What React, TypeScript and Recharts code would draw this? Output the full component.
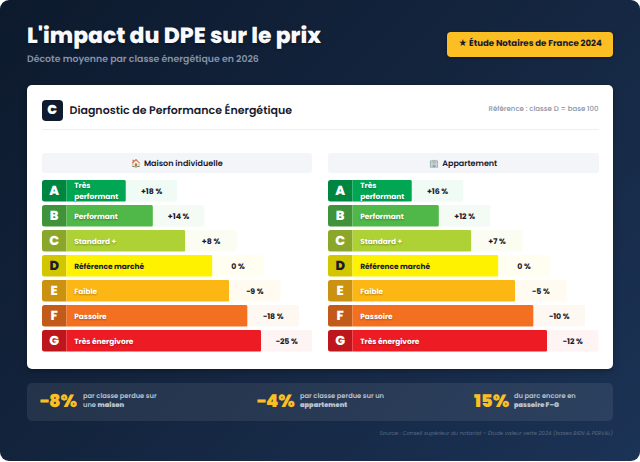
import React from "react";
import { BarChart, Bar, XAxis, YAxis, Cell, LabelList } from "recharts";

const classes = ["A", "B", "C", "D", "E", "F", "G"];
const names = ["Très performant", "Performant", "Standard +", "Référence marché", "Faible", "Passoire", "Très énergivore"];
const barShare = [31, 41, 53, 63, 69.2, 76, 81];
const houseDelta = ["+18 %", "+14 %", "+8 %", "0 %", "−9 %", "−18 %", "−25 %"];
const flatDelta = ["+16 %", "+12 %", "+7 %", "0 %", "−5 %", "−10 %", "−12 %"];
const barColors = ["#00a651", "#50b848", "#aed136", "#fff200", "#fdb714", "#f37021", "#ed1c24"];
const tabColors = ["#008541", "#40933a", "#8ba72b", "#d1c600", "#ca9210", "#c25a1a", "#be161d"];
const paleColors = ["#f0fbf5", "#f4fbf4", "#fbfdf3", "#fffef0", "#fffbf1", "#fef8f3", "#fef4f4"];
const darkText = ["#fff", "#fff", "#fff", "#1a1a2e", "#fff", "#fff", "#fff"];

const TAB = 9;
const PALE = 19;
const FONT = "Poppins, Inter, 'Noto Sans', sans-serif";

function rowsFor(delta: string[]) {
  return classes.map((c, i) => ({
    c,
    name: names[i],
    tab: TAB,
    body: barShare[i] - TAB,
    pale: PALE,
    delta: delta[i],
  }));
}

function TabShape(p: any) {
  const { x, y, width, height, fill } = p;
  const r = 2.5;
  return (
    <path
      d={`M${x + r},${y}H${x + width}V${y + height}H${x + r}Q${x},${y + height} ${x},${y + height - r}V${y + r}Q${x},${y} ${x + r},${y}Z`}
      fill={fill}
    />
  );
}

function BodyShape(p: any) {
  const { x, y, width, height, fill } = p;
  const r = 1.5;
  return (
    <path
      d={`M${x},${y}H${x + width - r}Q${x + width},${y} ${x + width},${y + r}V${y + height - r}Q${x + width},${y + height} ${x + width - r},${y + height}H${x}Z`}
      fill={fill}
    />
  );
}

function PaleShape(p: any) {
  const { x, y, width, height, fill } = p;
  return <rect x={x} y={y} width={width} height={height} rx={1.5} fill={fill} />;
}

function TabLabel(p: any) {
  const { x, y, width, height, value, index } = p;
  return (
    <text
      x={x + width / 2}
      y={y + height / 2 + 4.6}
      textAnchor="middle"
      fontSize={13}
      fontWeight={800}
      fontFamily={FONT}
      fill={darkText[index]}
    >
      {value}
    </text>
  );
}

function BodyLabel(p: any) {
  const { x, y, height, value, index } = p;
  const fill = darkText[index];
  const isDark = index === 3;
  const common = {
    fontSize: 7.4,
    fontWeight: 700,
    fontFamily: FONT,
    fill,
    style: { textShadow: isDark ? undefined : "0 1px 2px rgba(0,0,0,.3)" },
  };
  const tx = x + 7.8;
  const cy = y + height / 2;
  if (value === "Très performant") {
    return (
      <text {...common}>
        <tspan x={tx} y={cy - 3}>Très</tspan>
        <tspan x={tx} y={cy + 8.5}>performant</tspan>
      </text>
    );
  }
  return (
    <text {...common} x={tx} y={cy + 2.8}>
      {value}
    </text>
  );
}

function PaleLabel(p: any) {
  const { x, y, width, height, value } = p;
  return (
    <text
      x={x + width / 2}
      y={y + height / 2 + 3.2}
      textAnchor="middle"
      fontSize={7.8}
      fontWeight={700}
      fontFamily={FONT}
      fill="#1a1a2e"
    >
      {value}
    </text>
  );
}

function Ladder({ delta, left }: { delta: string[]; left: number }) {
  const rows = rowsFor(delta);
  return (
    <div style={{ position: "absolute", left, top: 177.75 }}>
      <BarChart
        width={270.5}
        height={175}
        layout="vertical"
        data={rows}
        margin={{ top: 0, right: 0, bottom: 0, left: 0 }}
        barCategoryGap={0}
        barSize={21.5}
      >
        <XAxis type="number" domain={[0, 100]} hide />
        <YAxis type="category" dataKey="c" hide width={0} />
        <Bar dataKey="tab" stackId="s" shape={TabShape} isAnimationActive={false}>
          {rows.map((r, i) => (
            <Cell key={r.c} fill={tabColors[i]} />
          ))}
          <LabelList dataKey="c" content={TabLabel} />
        </Bar>
        <Bar dataKey="body" stackId="s" shape={BodyShape} isAnimationActive={false}>
          {rows.map((r, i) => (
            <Cell key={r.c} fill={barColors[i]} />
          ))}
          <LabelList dataKey="name" content={BodyLabel} />
        </Bar>
        <Bar dataKey="pale" stackId="s" shape={PaleShape} isAnimationActive={false}>
          {rows.map((r, i) => (
            <Cell key={r.c} fill={paleColors[i]} />
          ))}
          <LabelList dataKey="delta" content={PaleLabel} />
        </Bar>
      </BarChart>
    </div>
  );
}

const abs = (s: React.CSSProperties): React.CSSProperties => ({ position: "absolute", whiteSpace: "nowrap", ...s });

function PanelHead({ left, icon, text, iconGap }: { left: number; icon: string; text: string; iconGap: number }) {
  return (
    <div
      style={abs({
        left,
        top: 153,
        width: 270.5,
        height: 19.5,
        paddingTop: 2.5,
        boxSizing: "border-box",
        background: "#f3f5f9",
        borderRadius: 3,
        display: "flex",
        alignItems: "center",
        justifyContent: "center",
        fontSize: 8,
        fontWeight: 600,
        color: "#1a1a2e",
        gap: iconGap,
      })}
    >
      <span>{icon}</span>
      <span>{text}</span>
    </div>
  );
}

function Stat({ left, big, bigW, lines }: { left: number; big: string; bigW: number; lines: React.ReactNode[] }) {
  return (
    <>
      <div style={abs({ left, top: 388.5, fontSize: 17.6, fontWeight: 900, color: "#fbbf24", lineHeight: "26px" })}>{big}</div>
      <div style={abs({ left: left + bigW, top: 391.5, fontSize: 6.7, fontWeight: 600, color: "#b8c2d0", lineHeight: "9px" })}>
        {lines.map((l, i) => (
          <div key={i}>{l}</div>
        ))}
      </div>
    </>
  );
}

export default function App() {
  return (
    <div
      style={{
        position: "absolute",
        left: 0,
        top: 0,
        width: 640,
        height: 462,
        overflow: "hidden",
        background: "#fff",
        fontFamily: FONT,
        textRendering: "geometricPrecision",
      }}
    >
      <div
        style={{
          position: "absolute",
          inset: "0 0 1.5px 0",
          borderRadius: 9,
          background: "linear-gradient(135deg,#0d1a2d 0%,#14253f 50%,#1b3356 100%)",
        }}
      />
      <div style={abs({ left: 27, top: 20.5, fontSize: 21.9, fontWeight: 800, color: "#f7f9fc", lineHeight: "30px", textShadow: "0 1px 3px rgba(0,0,0,.35)" })}>
        L'impact du DPE sur le prix
      </div>
      <div style={abs({ left: 27, top: 52.5, fontSize: 9.35, fontWeight: 600, color: "#8592a6", lineHeight: "14px" })}>
        Décote moyenne par classe énergétique en 2026
      </div>
      <div
        style={abs({
          left: 447,
          top: 32,
          width: 166,
          height: 25,
          background: "#fbbf24",
          borderRadius: 4,
          boxShadow: "0 1px 3px rgba(0,0,0,.4)",
          display: "flex",
          alignItems: "center",
          justifyContent: "center",
          fontSize: 8.6,
          fontWeight: 700,
          color: "#1a1a2e",
        })}
      >
        ★ Étude Notaires de France 2024
      </div>

      <div style={abs({ left: 27, top: 85, width: 586, height: 284, background: "#fff", borderRadius: 5, boxShadow: "0 2px 6px rgba(0,0,0,.3)" })} />
      <div
        style={abs({
          left: 41.5,
          top: 99.5,
          width: 21.5,
          height: 21.5,
          background: "#0f1a2e",
          borderRadius: 4,
          display: "flex",
          alignItems: "center",
          justifyContent: "center",
          color: "#fff",
          fontSize: 13,
          fontWeight: 900,
        })}
      >
        C
      </div>
      <div style={abs({ left: 69.5, top: 102, fontSize: 11, fontWeight: 600, color: "#1a1a2e", lineHeight: "16px" })}>
        Diagnostic de Performance Énergétique
      </div>
      <div style={abs({ right: 41.5, top: 104, fontSize: 7, fontWeight: 500, color: "#8a93a3", lineHeight: "12px" })}>
        Référence : classe D = base 100
      </div>
      <div style={abs({ left: 41.5, top: 129, width: 557, height: 1, background: "#edeff3" })} />

      <PanelHead left={41.5} icon="🏠" text="Maison individuelle" iconGap={3} />
      <PanelHead left={328} icon="🏢" text="Appartement" iconGap={3} />
      <Ladder delta={houseDelta} left={41.5} />
      <Ladder delta={flatDelta} left={328} />

      <div style={abs({ left: 27, top: 382.5, width: 586, height: 38.5, background: "rgba(255,255,255,.08)", borderRadius: 5 })} />
      <Stat left={40} big="−8%" bigW={43} lines={["par classe perdue sur", <span>une <b>maison</b></span>]} />
      <Stat left={257} big="−4%" bigW={43} lines={["par classe perdue sur un", <b>appartement</b>]} />
      <Stat left={474} big="15%" bigW={40} lines={["du parc encore en", <b>passoire F–G</b>]} />

      <div style={abs({ right: 27, top: 428, fontSize: 5.4, fontStyle: "italic", color: "#5a6b84", lineHeight: "10px" })}>
        Source : Conseil supérieur du notariat – Étude valeur verte 2024 (bases BIEN & PERVAL)
      </div>
    </div>
  );
}
